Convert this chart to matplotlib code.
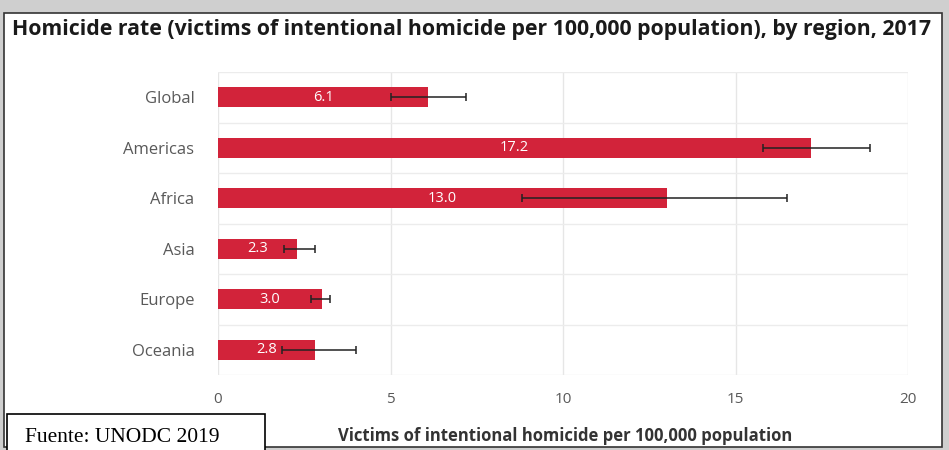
import matplotlib.pyplot as plt
from matplotlib.patches import Rectangle

regions = ["Global", "Americas", "Africa", "Asia", "Europe", "Oceania"]
rates = [6.1, 17.2, 13.0, 2.3, 3.0, 2.8]
err_low = [5.0, 15.8, 8.8, 1.9, 2.7, 1.85]
err_high = [7.2, 18.9, 16.5, 2.8, 3.25, 4.0]
x_ticks = [0, 5, 10, 15, 20]

W, H = 949, 450
fig = plt.figure(figsize=(W / 100, H / 100), dpi=100)
fig.patch.set_facecolor("#cfcfcf")

# white panel with dark frame (behind the axes)
panel = Rectangle((4 / W, 3 / H), 938 / W, 1 - 16 / H, transform=fig.transFigure,
                  facecolor="white", edgecolor="#333333", linewidth=1.2, zorder=-10)
fig.patches.append(panel)

ax = fig.add_axes([218 / W, 1 - 375 / H, 690 / W, 303 / H])
ax.set_facecolor("white")

ypos = list(range(len(regions)))
xerr = [[r - lo for r, lo in zip(rates, err_low)],
        [hi - r for r, hi in zip(rates, err_high)]]
ax.barh(ypos, rates, height=0.4, color="#d2233a", zorder=2)
ax.errorbar(rates, ypos, xerr=xerr, fmt="none", ecolor="#222222",
            elinewidth=1.1, capsize=3, capthick=1.1, zorder=3)

for y, r in zip(ypos, rates):
    ax.text(r / 2, y, f"{r:.1f}", color="white", ha="center", va="center",
            fontsize=10.5, family="Open Sans", zorder=4)

ax.set_xlim(0, 20)
ax.set_ylim(5.5, -0.5)
ax.set_xticks(x_ticks)
ax.set_xticklabels([str(t) for t in x_ticks])
ax.set_yticks(ypos)
ax.set_yticklabels(regions)
ax.set_yticks([i + 0.5 for i in range(-1, 6)], minor=True)
ax.grid(axis="x", color="#e6e6e6", linewidth=1, zorder=0)
ax.grid(axis="y", which="minor", color="#ececec", linewidth=1, zorder=0)
ax.tick_params(axis="both", which="both", length=0, labelsize=11,
               labelcolor="#595959")
ax.tick_params(axis="y", labelsize=12, pad=17)
ax.tick_params(axis="x", pad=12)
for lab in ax.get_xticklabels() + ax.get_yticklabels():
    lab.set_family("Open Sans")
for s in ax.spines.values():
    s.set_visible(False)

fig.text(12 / W, 1 - 30 / H,
         "Homicide rate (victims of intentional homicide per 100,000 population), by region, 2017",
         fontsize=15.3, fontweight="bold", family="Open Sans", color="#1a1a1a",
         ha="left", va="center")
fig.text(565 / W, 1 - 436 / H, "Victims of intentional homicide per 100,000 population",
         fontsize=12, fontweight="bold", family="Open Sans", color="#333333",
         ha="center", va="center")

# source box
src = Rectangle((7 / W, -0.01), 258 / W, 0.01 + 36 / H, transform=fig.transFigure,
                facecolor="white", edgecolor="black", linewidth=1.2, zorder=5)
fig.patches.append(src)
fig.text(25 / W, 1 - 437 / H, "Fuente: UNODC 2019", fontsize=15.5,
         family="Liberation Serif", color="black", ha="left", va="center", zorder=6)

fig.savefig("out.png", dpi=100, facecolor=fig.get_facecolor())
